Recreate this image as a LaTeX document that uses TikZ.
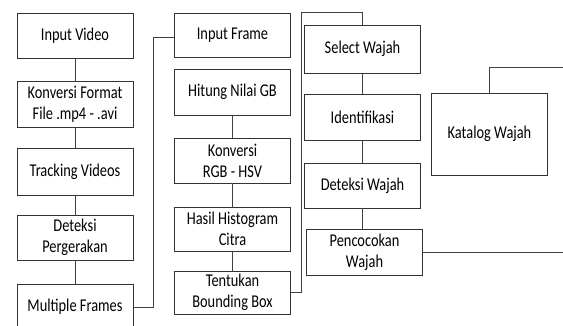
\documentclass[tikz,border=0pt]{standalone}
\usepackage{fontspec}
\setmainfont{Carlito}[FakeStretch=0.8]
\usetikzlibrary{calc}

\begin{document}
\begin{tikzpicture}[
    x=1pt, y=-1pt,
    font=\fontsize{18}{21}\selectfont,
    link/.style={draw=black!75, line width=0.8pt},
    % Box styles
    box/.style={draw=black!80, line width=0.9pt, fill=white, align=center, minimum width=116pt, inner sep=2pt},
    box tall/.style={box, minimum height=82pt}
]
\clip (0,0) rectangle (563,325);

% --- COLUMN 1 ---
\node[box, minimum height=45pt] (invideo) at (75,35.5) {Input Video};
\node[box, minimum height=46pt] (konvfmt) at (75,104) {Konversi Format\\File .mp4 - .avi};
\node[box, minimum height=47pt] (tracking) at (75,171.5) {Tracking Videos};
\node[box, minimum height=45pt] (gerak) at (75,237.5) {Deteksi\\Pergerakan};
\node[box, minimum height=46pt] (frames) at (75,307) {Multiple Frames};
\draw[link] (invideo) -- (konvfmt);
\draw[link] (konvfmt) -- (tracking);
\draw[link] (tracking) -- (gerak);
\draw[link] (gerak) -- (frames);

% --- COLUMN 2 ---
\node[box, minimum height=44pt] (inframe) at (232.5,35) {Input Frame};
\node[box, minimum height=46pt] (hitung) at (232.5,92) {Hitung Nilai GB};
\node[box, minimum height=45pt] (konvhsv) at (232.5,160.5) {Konversi\\RGB - HSV};
\node[box, minimum height=44pt] (histo) at (232.5,229) {Hasil Histogram\\Citra};
\node[box, minimum height=43pt] (bbox) at (232.5,292.5) {Tentukan\\Bounding Box};
\draw[link] (hitung) -- (konvhsv);
\draw[link] (konvhsv) -- (histo);
\draw[link] (histo) -- (bbox);
\draw[link] (frames.east) -- ++(20,0) |- ([yshift=-2pt]inframe.west);

% --- COLUMN 3 ---
\node[box, minimum height=48pt] (select) at (362.5,49) {Select Wajah};
\node[box, minimum height=46pt] (identif) at (362.5,117) {Identifikasi};
\node[box, minimum height=45pt] (deteksi) at (362.5,185.5) {Deteksi Wajah};
\node[box, minimum height=46pt] (cocok) at (364.5,252) {Pencocokan\\Wajah};
\node[box tall] (katalog) at (489.5,134) {Katalog Wajah};
\draw[link] (select) -- (identif);
\draw[link] (identif) -- (deteksi);
\draw[link] (deteksi.south) -- (deteksi.south |- cocok.north);
\draw[link] (bbox.east) -- ++(10,0) |- ([yshift=12pt]select.north) -- (select.north);

% lines running off the right edge
\coordinate (outA) at (566,253);
\coordinate (outB) at (566,67);
\draw[link] (cocok.east) -- (cocok.east -| outA);
\draw[link] (katalog.north) |- (outB);

\end{tikzpicture}
\end{document}
